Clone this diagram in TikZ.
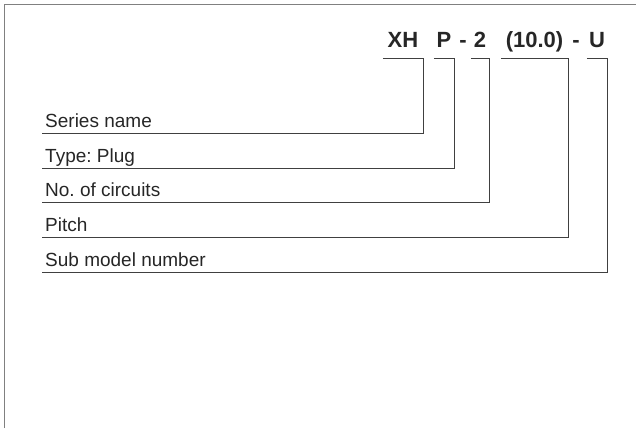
\documentclass[tikz,border=0pt]{standalone}
\usepackage{fontspec}
\setmainfont{Liberation Sans}
\usepackage{tikz}
\frenchspacing

\begin{document}
\begin{tikzpicture}[x=1pt,y=-1pt,
        code/.style={font=\fontsize{22}{24}\selectfont\bfseries, anchor=base, inner sep=0pt, text depth=0pt, text=black!85},
        lbl/.style={font=\fontsize{19}{21}\selectfont, anchor=base west, inner sep=0pt, text=black!85},
        brk/.style={draw=black!75, line width=0.9pt}]
        \useasboundingbox (0,0) rectangle (636,428);
        \draw[gray, line width=1.3pt] (4.5,428) -- (4.5,4.5) -- (636,4.5);    % frame: top and left only

        % model code
        \node[code, minimum width=40pt] (xh) at (403,48) {XH};
        \node[code, minimum width=20pt] (p) at (444,48) {P};
        \node[code] (d1) at (463,48) {-};
        \node[code, minimum width=18pt] (n) at (480,48) {2};
        \node[code, minimum width=67pt] (pitch) at (534.5,48) {(10.0)};
        \node[code] (d2) at (576,48) {-};
        \node[code, minimum width=20pt] (u) at (597,48) {U};

        % labels and their lines
        \node[lbl] (sn) at (45,127) {Series name};
        \node[lbl] (tp) at (45,162) {Type: Plug};
        \node[lbl] (nc) at (45,196) {No. of circuits};
        \node[lbl] (pt) at (45,231) {Pitch};
        \node[lbl] (sm) at (45,266) {Sub model number};
        \coordinate (sn-l) at (42,133);
        \coordinate (tp-l) at (42,168);
        \coordinate (nc-l) at (42,202);
        \coordinate (pt-l) at (42,237);
        \coordinate (sm-l) at (42,272);

        % brackets
        \draw[brk] ([yshift=-10pt]xh.south west) -- ([yshift=-10pt]xh.south east) -- (xh.east |- sn-l) -- (sn-l);
        \draw[brk] ([yshift=-10pt]p.south west) -- ([yshift=-10pt]p.south east) -- (p.east |- tp-l) -- (tp-l);
        \draw[brk] ([yshift=-10pt]n.south west) -- ([yshift=-10pt]n.south east) -- (n.east |- nc-l) -- (nc-l);
        \draw[brk] ([yshift=-10pt]pitch.south west) -- ([yshift=-10pt]pitch.south east) -- (pitch.east |- pt-l) -- (pt-l);
        \draw[brk] ([yshift=-10pt]u.south west) -- ([yshift=-10pt]u.south east) -- (u.east |- sm-l) -- (sm-l);
    \end{tikzpicture}
\end{document}
